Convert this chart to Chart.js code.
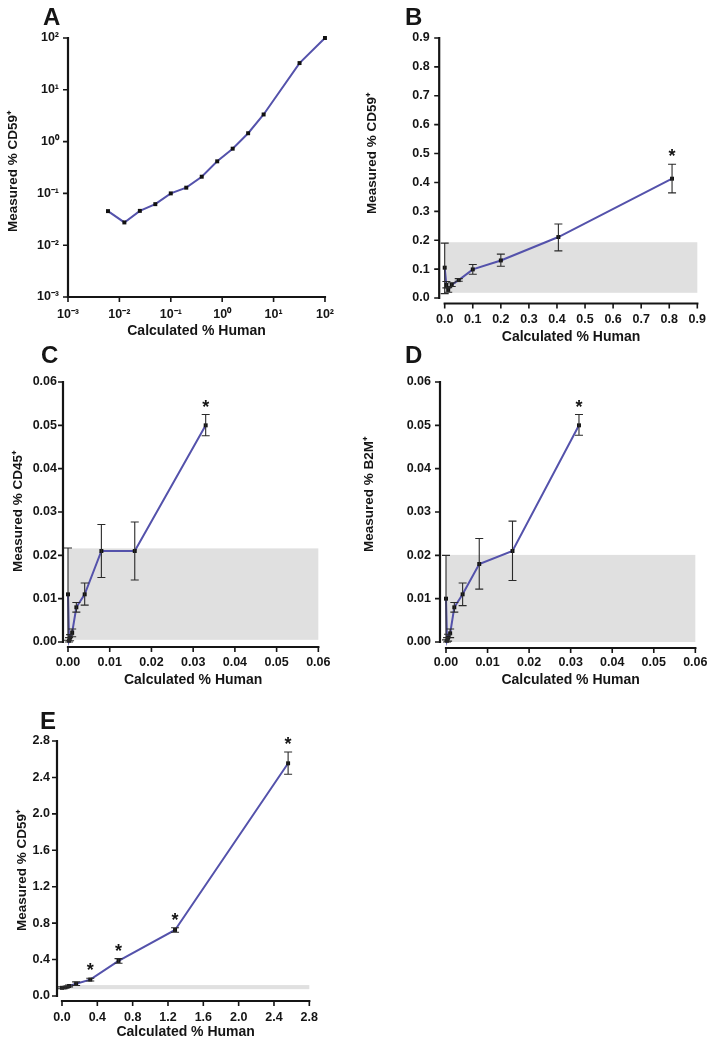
<!DOCTYPE html>
<html>
<head>
<meta charset="utf-8">
<script src="https://cdn.jsdelivr.net/npm/chart.js@4.4.0/dist/chart.umd.min.js"></script>
<style>
  body { margin: 0; background: #fff; }
  #page { position: relative; width: 724px; height: 1045px; overflow: hidden; }
  #page canvas { position: absolute; }
</style>
</head>
<body>
<div id="page"></div>
<script>
// ---- data ----
// A: log / log dilution series
var xA = [0.006, 0.0125, 0.025, 0.05, 0.1, 0.2, 0.4, 0.8, 1.6, 3.2, 6.4, 32, 100];
var yA = [0.0455, 0.0275, 0.046, 0.062, 0.1, 0.129, 0.21, 0.416, 0.73, 1.45, 3.34, 32.8, 100];
var ticksA = [0.001, 0.01, 0.1, 1, 10, 100];
var tickLabelsA = ['10⁻³', '10⁻²', '10⁻¹', '10⁰', '10¹', '10²'];

// B: CD59, low range
var xB = [0, 0.006, 0.0125, 0.025, 0.05, 0.1, 0.2, 0.405, 0.81];
var yB = [0.105, 0.045, 0.028, 0.046, 0.062, 0.099, 0.13, 0.211, 0.413];
var loB = [0.015, 0.035, 0.02, 0.04, 0.058, 0.082, 0.11, 0.163, 0.364];
var hiB = [0.19, 0.057, 0.036, 0.053, 0.067, 0.116, 0.152, 0.256, 0.463];
var starB = [0, 0, 0, 0, 0, 0, 0, 0, 1];
var bandB = [0.018, 0.193];
var ticksB = [0, 0.1, 0.2, 0.3, 0.4, 0.5, 0.6, 0.7, 0.8, 0.9];
var tickLabelsB = ['0.0', '0.1', '0.2', '0.3', '0.4', '0.5', '0.6', '0.7', '0.8', '0.9'];

// C: CD45
var xC = [0, 0.00025, 0.0005, 0.001, 0.002, 0.004, 0.008, 0.016, 0.033];
var yC = [0.011, 0.0003, 0.001, 0.0022, 0.008, 0.011, 0.021, 0.021, 0.050];
var loC = [0.0004, 0, 0.0003, 0.0012, 0.0069, 0.0085, 0.0149, 0.0143, 0.0476];
var hiC = [0.0217, 0.001, 0.0017, 0.003, 0.0091, 0.0136, 0.0271, 0.0277, 0.0525];
var starC = [0, 0, 0, 0, 0, 0, 0, 0, 1];
var bandC = [0.0005, 0.0216];

// D: B2M
var xD = [0, 0.00025, 0.0005, 0.001, 0.002, 0.004, 0.008, 0.016, 0.032];
var yD = [0.010, 0.0003, 0.001, 0.002, 0.008, 0.011, 0.018, 0.021, 0.050];
var loD = [0.0005, 0, 0.0002, 0.001, 0.0069, 0.0084, 0.0122, 0.0142, 0.0477];
var hiD = [0.020, 0.001, 0.0018, 0.003, 0.0091, 0.0136, 0.0239, 0.0279, 0.0525];
var starD = [0, 0, 0, 0, 0, 0, 0, 0, 1];
var bandD = [0, 0.0201];

var ticksCD = [0, 0.01, 0.02, 0.03, 0.04, 0.05, 0.06];
var tickLabelsCD = ['0.00', '0.01', '0.02', '0.03', '0.04', '0.05', '0.06'];

// E: CD59, higher range
var xE = [0, 0.04, 0.08, 0.16, 0.32, 0.64, 1.28, 2.56];
var yE = [0.09, 0.095, 0.11, 0.135, 0.18, 0.385, 0.725, 2.555];
var loE = [0.08, 0.085, 0.1, 0.115, 0.165, 0.36, 0.7, 2.435];
var hiE = [0.1, 0.105, 0.12, 0.155, 0.195, 0.41, 0.75, 2.68];
var starE = [0, 0, 0, 0, 1, 1, 1, 1];
var bandE = [0.075, 0.12];
var ticksE = [0, 0.4, 0.8, 1.2, 1.6, 2.0, 2.4, 2.8];
var tickLabelsE = ['0.0', '0.4', '0.8', '1.2', '1.6', '2.0', '2.4', '2.8'];

var FONT = '"Liberation Sans", Arial, Helvetica, sans-serif';
var LINE = '#5452ab';
var INK = '#151515';

// draws band, error bars, stars, offset axes, panel letter and y title
function panelPlugin(p) {
  return {
    id: 'panel' + p.letter,
    beforeDatasetsDraw: function(chart) {
      if (!p.band) return;
      var ctx = chart.ctx, xs = chart.scales.x, ys = chart.scales.y;
      var x0 = xs.getPixelForValue(p.xMin), x1 = xs.getPixelForValue(p.xMax);
      var y0 = ys.getPixelForValue(p.band[1]), y1 = ys.getPixelForValue(p.band[0]);
      ctx.save();
      ctx.fillStyle = '#e0e0e0';
      ctx.fillRect(x0, y0, x1 - x0, y1 - y0);
      ctx.restore();
    },
    afterDatasetsDraw: function(chart) {
      var ctx = chart.ctx, xs = chart.scales.x, ys = chart.scales.y;
      ctx.save();
      if (p.lo) {
        ctx.strokeStyle = '#2a2a2a';
        ctx.lineWidth = 1.1;
        for (var i = 0; i < p.x.length; i++) {
          var px = xs.getPixelForValue(p.x[i]);
          var top = ys.getPixelForValue(p.hi[i]), bot = ys.getPixelForValue(p.lo[i]);
          ctx.beginPath();
          ctx.moveTo(px, top); ctx.lineTo(px, bot);
          ctx.moveTo(px - 4, top); ctx.lineTo(px + 4, top);
          ctx.moveTo(px - 4, bot); ctx.lineTo(px + 4, bot);
          ctx.stroke();
        }
      }
      if (p.star) {
        ctx.fillStyle = INK;
        ctx.font = 'bold 18px ' + FONT;
        ctx.textAlign = 'center';
        ctx.textBaseline = 'alphabetic';
        for (var j = 0; j < p.x.length; j++) {
          if (!p.star[j]) continue;
          ctx.fillText('*', xs.getPixelForValue(p.x[j]), ys.getPixelForValue(p.hi[j]) - 2);
        }
      }
      ctx.restore();
    },
    afterDraw: function(chart) {
      var ctx = chart.ctx, xs = chart.scales.x, ys = chart.scales.y, ca = chart.chartArea;
      ctx.save();
      ctx.strokeStyle = INK;
      // x axis line
      var ay = ca.bottom + p.off;
      ctx.lineWidth = 2.2;
      ctx.lineCap = 'square';
      ctx.beginPath();
      ctx.moveTo(xs.getPixelForValue(p.xMin), ay);
      ctx.lineTo(xs.getPixelForValue(p.xMax), ay);
      ctx.stroke();
      // y axis line
      var ax = ca.left - p.off;
      ctx.beginPath();
      ctx.moveTo(ax, ys.getPixelForValue(p.yMin));
      ctx.lineTo(ax, ys.getPixelForValue(p.yMax));
      ctx.stroke();
      // tick marks
      ctx.lineCap = 'butt';
      ctx.lineWidth = 1.6;
      ctx.beginPath();
      p.xTicks.forEach(function(v) {
        var px = xs.getPixelForValue(v);
        ctx.moveTo(px, ay); ctx.lineTo(px, ay + 5);
      });
      p.yTicks.forEach(function(v) {
        var py = ys.getPixelForValue(v);
        ctx.moveTo(ax, py); ctx.lineTo(ax - 5, py);
      });
      ctx.stroke();

      // panel letter
      ctx.fillStyle = INK;
      ctx.font = 'bold 24px ' + FONT;
      ctx.textAlign = 'left';
      ctx.textBaseline = 'alphabetic';
      ctx.fillText(p.letter, p.letterAt[0] - p.cLeft, p.letterAt[1] - p.cTop);

      // y title
      ctx.translate(p.yTitleAt[0] - p.cLeft, p.yTitleAt[1] - p.cTop);
      ctx.rotate(-Math.PI / 2);
      ctx.font = 'bold 13.5px ' + FONT;
      ctx.textAlign = 'center';
      ctx.textBaseline = 'middle';
      ctx.fillText(p.yTitle, 0, 0);
      ctx.restore();
    }
  };
}

function makePanel(p) {
  // p.area = [left, top, right, bottom] of the plot area on the page
  var L = p.area[0], T = p.area[1], R = p.area[2], B = p.area[3];
  p.cLeft = p.col;
  p.cTop = T - 40;
  var w = Math.round(R + 16 - p.cLeft);
  var h = Math.round(B + 50 - p.cTop);
  var yw = L - p.cLeft;

  var canvas = document.createElement('canvas');
  canvas.width = w; canvas.height = h;
  canvas.style.left = p.cLeft + 'px';
  canvas.style.top = p.cTop + 'px';
  canvas.style.width = w + 'px';
  canvas.style.height = h + 'px';
  document.getElementById('page').appendChild(canvas);

  var pts = p.x.map(function(v, i) { return {x: v, y: p.y[i]}; });
  var tickFont = {family: FONT, size: 12.5, weight: 'bold'};

  new Chart(canvas.getContext('2d'), {
    type: 'scatter',
    data: {
      datasets: [{
        data: pts,
        showLine: true,
        borderColor: LINE,
        borderWidth: 2,
        pointStyle: 'rect',
        pointRadius: 2.8,
        pointBackgroundColor: '#111',
        pointBorderWidth: 0,
        clip: false
      }]
    },
    options: {
      responsive: false,
      animation: false,
      devicePixelRatio: 1,
      layout: {padding: {top: 40, right: 16, left: 0, bottom: 0}},
      plugins: {legend: {display: false}, tooltip: {enabled: false}},
      scales: {
        x: {
          type: p.log ? 'logarithmic' : 'linear',
          min: p.xMin, max: p.xMax,
          grid: {display: false, drawTicks: false},
          border: {display: false},
          afterBuildTicks: function(s) { s.ticks = p.xTicks.map(function(v) { return {value: v}; }); },
          afterFit: function(s) { s.height = 50; },
          ticks: {
            padding: p.xTickPad, color: INK, font: tickFont, maxRotation: 0, autoSkip: false,
            callback: function(v, i) { return p.xLabels[i]; }
          },
          title: {
            display: true, text: 'Calculated % Human', color: INK,
            font: {family: FONT, size: 14, weight: 'bold'},
            padding: {top: 0, bottom: p.xTitlePad}
          }
        },
        y: {
          type: p.log ? 'logarithmic' : 'linear',
          min: p.yMin, max: p.yMax,
          grid: {display: false, drawTicks: false},
          border: {display: false},
          afterBuildTicks: function(s) { s.ticks = p.yTicks.map(function(v) { return {value: v}; }); },
          afterFit: function(s) { s.width = yw; },
          ticks: {
            padding: p.yTickPad, color: INK, font: tickFont, autoSkip: false,
            callback: function(v, i) { return p.yLabels[i]; }
          }
        }
      }
    },
    plugins: [panelPlugin(p)]
  });
}

makePanel({
  letter: 'A', col: 0, area: [68, 38, 328, 297], off: 0, log: true,
  x: xA, y: yA,
  xMin: 0.001, xMax: 100, yMin: 0.001, yMax: 100,
  xTicks: ticksA, xLabels: tickLabelsA, yTicks: ticksA, yLabels: tickLabelsA,
  xTickPad: 10, yTickPad: 9, xTitlePad: 7.5,
  letterAt: [43, 25], yTitle: 'Measured % CD59⁺', yTitleAt: [13, 171]
});

makePanel({
  letter: 'B', col: 362, area: [444.7, 38, 704, 298], off: 5.5,
  x: xB, y: yB, lo: loB, hi: hiB, star: starB, band: bandB,
  xMin: 0, xMax: 0.9, yMin: 0, yMax: 0.9,
  xTicks: ticksB, xLabels: tickLabelsB, yTicks: ticksB, yLabels: tickLabelsB,
  xTickPad: 14, yTickPad: 15, xTitlePad: 2.5,
  letterAt: [405, 25], yTitle: 'Measured % CD59⁺', yTitleAt: [372, 153]
});

makePanel({
  letter: 'C', col: 0, area: [68, 382, 328, 642], off: 5,
  x: xC, y: yC, lo: loC, hi: hiC, star: starC, band: bandC,
  xMin: 0, xMax: 0.06, yMin: 0, yMax: 0.06,
  xTicks: ticksCD, xLabels: tickLabelsCD, yTicks: ticksCD, yLabels: tickLabelsCD,
  xTickPad: 13.5, yTickPad: 11, xTitlePad: 3.5,
  letterAt: [41, 363], yTitle: 'Measured % CD45⁺', yTitleAt: [18, 511]
});

makePanel({
  letter: 'D', col: 362, area: [446, 382, 705, 642], off: 6,
  x: xD, y: yD, lo: loD, hi: hiD, star: starD, band: bandD,
  xMin: 0, xMax: 0.06, yMin: 0, yMax: 0.06,
  xTicks: ticksCD, xLabels: tickLabelsCD, yTicks: ticksCD, yLabels: tickLabelsCD,
  xTickPad: 13.5, yTickPad: 15, xTitlePad: 3.5,
  letterAt: [405, 363], yTitle: 'Measured % B2M⁺', yTitleAt: [369, 494]
});

makePanel({
  letter: 'E', col: 0, area: [62, 741, 316, 996], off: 5,
  x: xE, y: yE, lo: loE, hi: hiE, star: starE, band: bandE,
  xMin: 0, xMax: 2.8, yMin: 0, yMax: 2.8,
  xTicks: ticksE, xLabels: tickLabelsE, yTicks: ticksE, yLabels: tickLabelsE,
  xTickPad: 14, yTickPad: 12, xTitlePad: 5,
  letterAt: [40, 729], yTitle: 'Measured % CD59⁺', yTitleAt: [22, 870]
});
</script>
</body>
</html>
